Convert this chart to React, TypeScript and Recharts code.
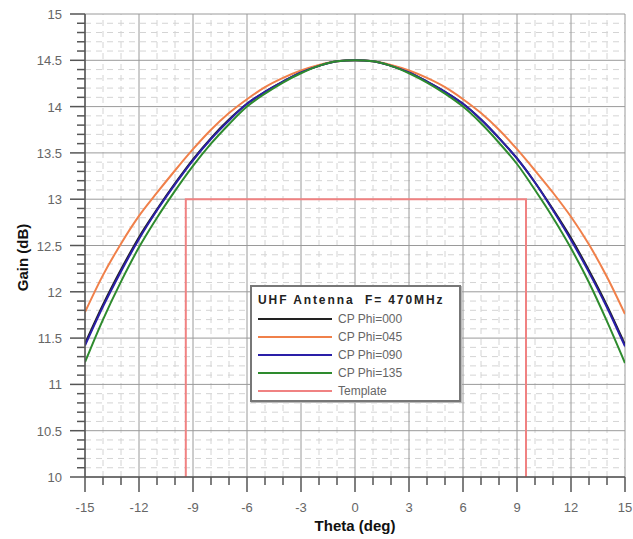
import React from 'react';
import { LineChart, Line, XAxis, YAxis, ReferenceLine, Legend } from 'recharts';

const THETA = [-15, -14, -13, -12, -11, -10, -9, -8, -7, -6, -5, -4, -3, -2, -1, 0, 1, 2, 3, 4, 5, 6, 7, 8, 9, 10, 11, 12, 13, 14, 15];

// gain (dB) per cut
const PHI000 = [11.44, 11.86, 12.24, 12.59, 12.89, 13.17, 13.43, 13.66, 13.86, 14.03, 14.16, 14.27, 14.37, 14.44, 14.49, 14.5, 14.49, 14.44, 14.37, 14.27, 14.16, 14.03, 13.86, 13.66, 13.44, 13.18, 12.89, 12.58, 12.23, 11.85, 11.43];
const PHI045 = [11.78, 12.18, 12.52, 12.82, 13.07, 13.31, 13.54, 13.75, 13.93, 14.08, 14.21, 14.31, 14.39, 14.45, 14.49, 14.5, 14.49, 14.45, 14.39, 14.31, 14.21, 14.08, 13.93, 13.75, 13.54, 13.31, 13.07, 12.81, 12.51, 12.16, 11.76];
const PHI090 = [11.42, 11.84, 12.22, 12.57, 12.88, 13.16, 13.42, 13.65, 13.85, 14.03, 14.16, 14.27, 14.37, 14.44, 14.49, 14.5, 14.49, 14.44, 14.37, 14.27, 14.16, 14.03, 13.86, 13.66, 13.44, 13.18, 12.88, 12.56, 12.21, 11.83, 11.41];
const PHI135 = [11.24, 11.7, 12.11, 12.48, 12.8, 13.09, 13.36, 13.6, 13.81, 14.0, 14.14, 14.26, 14.36, 14.44, 14.49, 14.5, 14.49, 14.44, 14.36, 14.26, 14.14, 14.0, 13.82, 13.61, 13.38, 13.1, 12.8, 12.47, 12.1, 11.68, 11.23];

const TEMPLATE_THETA = [-9.4, -9.4, 9.5, 9.5];
const TEMPLATE_GAIN = [10, 13, 13, 10];

const X_MAJOR = [-15, -12, -9, -6, -3, 0, 3, 6, 9, 12, 15];
const Y_MAJOR = [10, 10.5, 11, 11.5, 12, 12.5, 13, 13.5, 14, 14.5, 15];
const X_ALL = THETA;
const Y_ALL = Array.from({ length: 51 }, (_, i) => Math.round((10 + i * 0.1) * 10) / 10);
const X_MINOR = X_ALL.filter(v => !X_MAJOR.includes(v));
const Y_MINOR = Y_ALL.filter(v => !Y_MAJOR.includes(v));

const SERIES = [
  { key: 'p000', name: 'CP Phi=000', color: '#222222' },
  { key: 'p045', name: 'CP Phi=045', color: '#f0804a' },
  { key: 'p090', name: 'CP Phi=090', color: '#2a1fa8' },
  { key: 'p135', name: 'CP Phi=135', color: '#2e8b2e' },
];
const TEMPLATE_COLOR = '#f08282';

const data = THETA.map((t, i) => ({ theta: t, p000: PHI000[i], p045: PHI045[i], p090: PHI090[i], p135: PHI135[i] }));
const templateData = TEMPLATE_THETA.map((t, i) => ({ theta: t, gain: TEMPLATE_GAIN[i] }));

const FONT = 'Arial, "Liberation Sans", sans-serif';

const XTick = (props: any) => {
  const { x, y, payload } = props;
  const major = X_MAJOR.includes(payload.value);
  return (
    <g>
      <line x1={x} x2={x} y1={y} y2={y + (major ? 15 : 8)} stroke="#555" strokeWidth={1.5} />
      {major && (
        <text x={x} y={y + 35} textAnchor="middle" fill="#666" fontSize={13} fontFamily={FONT}>{payload.value}</text>
      )}
    </g>
  );
};

const YTick = (props: any) => {
  const { x, y, payload } = props;
  const major = Y_MAJOR.includes(payload.value);
  return (
    <g>
      <line x1={x - (major ? 15 : 8)} x2={x} y1={y} y2={y} stroke="#555" strokeWidth={1.5} />
      {major && (
        <text x={x - 23} y={y + 5} textAnchor="end" fill="#666" fontSize={13} fontFamily={FONT}>{payload.value}</text>
      )}
    </g>
  );
};

const LegendBox = () => (
  <div style={{ width: 211, height: 117, background: '#fff', border: '2px solid #777', boxShadow: '1px 1px 0 #bbb', fontFamily: FONT, padding: '6px 0 0 6px', boxSizing: 'border-box' }}>
    <div style={{ fontWeight: 'bold', fontSize: 12, letterSpacing: 1.9, color: '#222', marginBottom: 3 }}>UHF Antenna&nbsp;&nbsp;F= 470MHz</div>
    {[...SERIES, { key: 'tpl', name: 'Template', color: TEMPLATE_COLOR }].map(s => (
      <div key={s.key} style={{ display: 'flex', alignItems: 'center', height: 18 }}>
        <div style={{ width: 74, height: 0, borderTop: `2px solid ${s.color}`, marginRight: 6 }} />
        <span style={{ fontSize: 12, color: '#666' }}>{s.name}</span>
      </div>
    ))}
  </div>
);

export default function App() {
  return (
    <div style={{ position: 'absolute', left: 0, top: 0, background: '#fff' }}>
      <LineChart width={633} height={539} data={data} margin={{ top: 14, right: 8, left: 0, bottom: 0 }}>
        <XAxis
          dataKey="theta" type="number" domain={[-15, 15]} allowDataOverflow ticks={X_ALL} interval={0}
          height={62} tickSize={0} tickMargin={0} tickLine={false} tick={<XTick />}
          axisLine={{ stroke: '#555', strokeWidth: 1.5 }}
          label={{ value: 'Theta (deg)', position: 'insideBottom', offset: 8, fill: '#111', fontSize: 15, fontWeight: 'bold', fontFamily: FONT }}
        />
        <YAxis
          type="number" domain={[10, 15]} allowDataOverflow ticks={Y_ALL} interval={0}
          width={85} tickSize={0} tickMargin={0} tickLine={false} tick={<YTick />}
          axisLine={{ stroke: '#555', strokeWidth: 1.5 }}
          label={{ value: 'Gain (dB)', angle: -90, position: 'center', dx: -20, dy: 12, fill: '#111', fontSize: 15, fontWeight: 'bold', fontFamily: FONT }}
        />
        {X_MINOR.map(v => <ReferenceLine key={'xm' + v} x={v} stroke="#d4d4d4" strokeDasharray="6 5" />)}
        {Y_MINOR.map(v => <ReferenceLine key={'ym' + v} y={v} stroke="#d4d4d4" strokeDasharray="6 5" />)}
        {X_MAJOR.map(v => <ReferenceLine key={'xM' + v} x={v} stroke="#9a9a9a" />)}
        {Y_MAJOR.map(v => <ReferenceLine key={'yM' + v} y={v} stroke="#9a9a9a" />)}
        <Line data={templateData} dataKey="gain" type="linear" stroke={TEMPLATE_COLOR} strokeWidth={2} dot={false} isAnimationActive={false} legendType="none" />
        {SERIES.map(s => (
          <Line key={s.key} dataKey={s.key} name={s.name} type="monotone" stroke={s.color} strokeWidth={2} dot={false} isAnimationActive={false} />
        ))}
        <Legend layout="vertical" align="center" verticalAlign="middle" content={<LegendBox />}
          wrapperStyle={{ position: 'absolute', left: 250, top: 285, width: 213 }} />
      </LineChart>
    </div>
  );
}
